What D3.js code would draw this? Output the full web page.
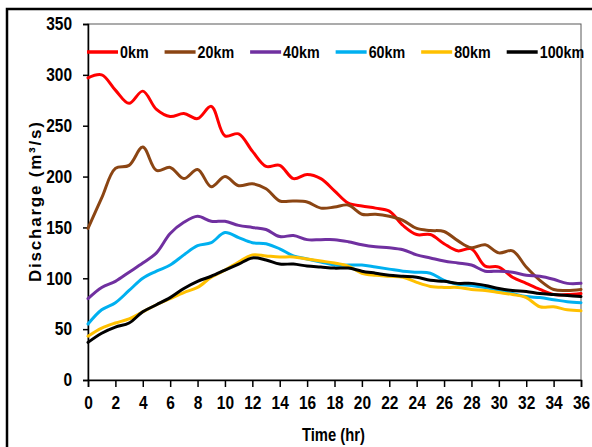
<!DOCTYPE html>
<html>
<head>
<meta charset="utf-8">
<script src="https://cdn.jsdelivr.net/npm/d3@7/dist/d3.min.js"></script>
<style>
  html, body { margin: 0; padding: 0; background: #fff; }
  svg { display: block; }
</style>
</head>
<body>
<svg id="chart" width="592" height="447"></svg>
<script>
// Hourly discharge (m³/s) at increasing distances downstream
const hours = d3.range(0, 37);
const seriesNames = ["0km", "20km", "40km", "60km", "80km", "100km"];
const seriesColors = ["#FF0000", "#8B4513", "#7030A0", "#00B0F0", "#FFC000", "#000000"];

const q0km = [297, 300, 285, 272, 284, 266, 259, 262, 257, 269, 240, 242, 225, 210, 211, 198, 202, 198, 186, 174,
              171, 169, 166, 152, 143, 143, 134, 127, 129, 112, 111, 101, 95, 89, 84, 84, 85];
const q20km = [149, 179, 208, 211, 229, 206, 209, 198, 207, 190, 200, 191, 193, 188, 176, 176, 175, 169, 170, 172,
               163, 163, 161, 157, 149, 147, 146, 137, 130, 133, 125, 127, 111, 98, 89, 88, 89];
const q40km = [80, 91, 97, 106, 115, 125, 144, 155, 161, 156, 156, 152, 150, 148, 141, 142, 138, 138, 138, 136,
               133, 131, 130, 128, 123, 120, 117, 115, 113, 107, 107, 106, 103, 102, 99, 95, 95];
const q60km = [55, 69, 76, 88, 100, 107, 113, 123, 132, 135, 145, 140, 135, 134, 129, 122, 119, 116, 113, 113,
               113, 111, 109, 107, 106, 105, 98, 94, 93, 91, 88, 85, 82, 81, 79, 77, 76];
const q80km = [43, 51, 56, 60, 67, 74, 80, 86, 91, 101, 108, 116, 123, 122, 121, 121, 119, 117, 115, 112,
               105, 103, 102, 101, 96, 92, 91, 91, 89, 88, 86, 84, 81, 72, 72, 69, 68];
const q100km = [37, 46, 52, 56, 67, 74, 81, 90, 97, 102, 108, 114, 120, 118, 114, 114, 112, 111, 110, 110,
                107, 105, 103, 102, 101, 98, 97, 95, 95, 93, 90, 88, 87, 85, 84, 83, 82];

const seriesValues = [q0km, q20km, q40km, q60km, q80km, q100km];
const xTicks = d3.range(0, 37, 2);
const yTicks = [0, 50, 100, 150, 200, 250, 300, 350];

const svg = d3.select("#chart");
const margin = { left: 88, top: 24, right: 11, bottom: 67 };
const W = 592, H = 447;
const x = d3.scaleLinear().domain([0, 36]).range([margin.left, W - margin.right]);
const y = d3.scaleLinear().domain([0, 350]).range([H - margin.bottom, margin.top]);

const sans = '"Liberation Sans", Arial, sans-serif';

// squeeze bold sans text to a narrower, condensed look
function condense(sel, factor) {
  sel.each(function () {
    const w = this.getComputedTextLength();
    d3.select(this).attr("textLength", w * factor).attr("lengthAdjust", "spacingAndGlyphs");
  });
}

// outer frame of the figure
svg.append("rect")
  .attr("x", 7).attr("y", 9).attr("width", 800).attr("height", 800)
  .attr("fill", "none").attr("stroke", "#000").attr("stroke-width", 2.5);

// plot area border
svg.append("rect")
  .attr("x", x(0)).attr("y", y(350))
  .attr("width", x(36) - x(0)).attr("height", y(0) - y(350))
  .attr("fill", "none").attr("stroke", "#595959").attr("stroke-width", 1);

// axes
const yAxis = svg.append("g")
  .attr("transform", `translate(${x(0)},0)`)
  .call(d3.axisLeft(y).tickValues(yTicks).tickSize(5).tickPadding(11).tickFormat(d3.format("d")));
const xAxis = svg.append("g")
  .attr("transform", `translate(0,${y(0)})`)
  .call(d3.axisBottom(x).tickValues(xTicks).tickSize(7).tickPadding(9).tickFormat(d3.format("d")));

[yAxis, xAxis].forEach(g => {
  g.select(".domain").attr("stroke", "#000").attr("stroke-width", 1.5);
  g.selectAll(".tick line").attr("stroke", "#000").attr("stroke-width", 1.5);
  g.selectAll(".tick text").attr("fill", "#000")
    .style("font-size", "18px").style("font-family", sans).style("font-weight", "bold")
    .call(condense, 0.86);
});

// axis titles
svg.append("text")
  .attr("x", (x(0) + x(36)) / 2 - 1).attr("y", 441)
  .attr("text-anchor", "middle")
  .attr("textLength", 63).attr("lengthAdjust", "spacingAndGlyphs")
  .style("font-family", sans).style("font-weight", "bold").style("font-size", "18px")
  .text("Time (hr)");

svg.append("text")
  .attr("transform", `translate(41,${(y(0) + y(350)) / 2}) rotate(-90)`)
  .attr("text-anchor", "middle")
  .attr("textLength", 160).attr("lengthAdjust", "spacing")
  .style("font-family", sans).style("font-weight", "bold").style("font-size", "17px")
  .text("Discharge (m³/s)");

// discharge lines
const line = d3.line()
  .x((d, i) => x(hours[i]))
  .y(d => y(d))
  .curve(d3.curveCatmullRom.alpha(0.5));

svg.append("g").selectAll("path")
  .data(seriesValues)
  .join("path")
  .attr("d", d => line(d))
  .attr("fill", "none")
  .attr("stroke", (d, i) => seriesColors[i])
  .attr("stroke-width", 3)
  .attr("stroke-linejoin", "round")
  .attr("stroke-linecap", "round");

// legend along the top of the plot
const legend = svg.append("g").attr("transform", "translate(87,52)");
let lx = 0;
seriesNames.forEach((name, i) => {
  const item = legend.append("g").attr("transform", `translate(${lx},0)`);
  item.append("line")
    .attr("x1", 0).attr("x2", 31).attr("y1", 0).attr("y2", 0)
    .attr("stroke", seriesColors[i]).attr("stroke-width", 3.5);
  const t = item.append("text")
    .attr("x", 33).attr("y", 6)
    .style("font-family", sans).style("font-weight", "bold").style("font-size", "17px")
    .text(name);
  condense(t, 0.84);
  lx += 33 + +t.attr("textLength") + 16;
});
</script>
</body>
</html>
